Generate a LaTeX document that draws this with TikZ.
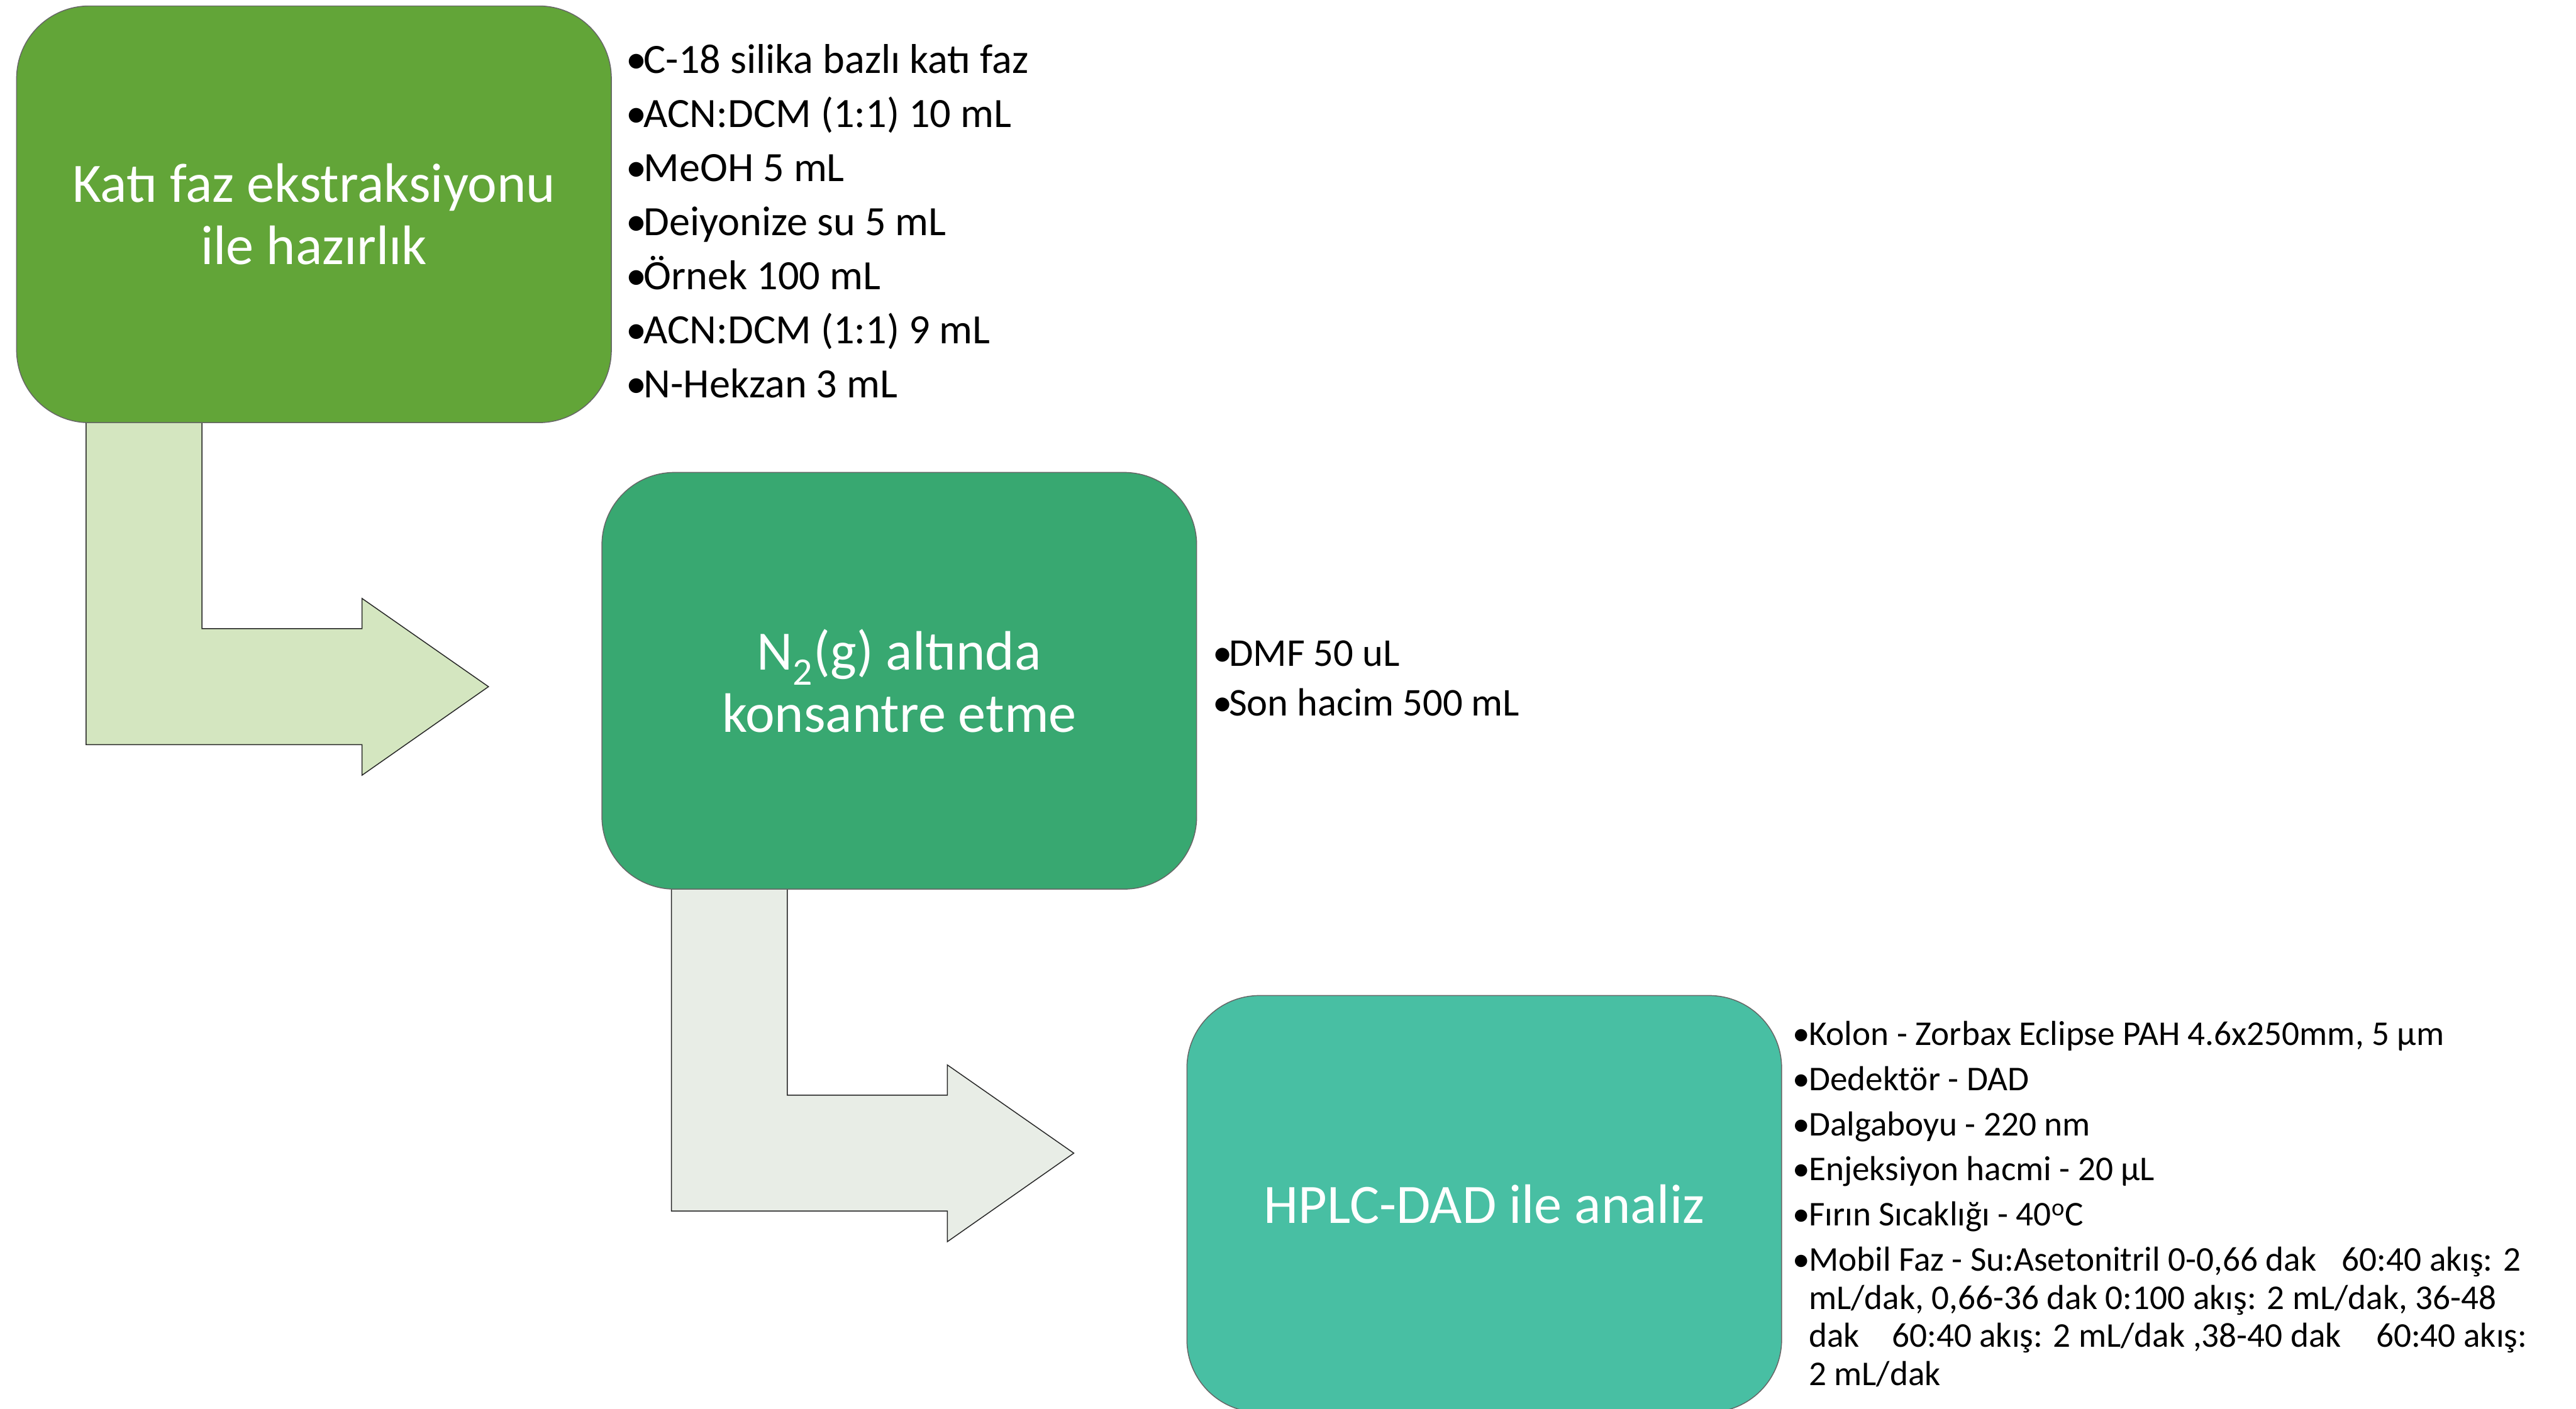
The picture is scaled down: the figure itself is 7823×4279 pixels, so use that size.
\documentclass[tikz,border=0pt]{standalone}
\usepackage{fontspec}
\setmainfont{Carlito}
\pgfdeclarelayer{background}
\pgfsetlayers{background,main}
\definecolor{boxA}{RGB}{98,165,56}
\definecolor{boxB}{RGB}{56,168,113}
\definecolor{boxC}{RGB}{72,191,163}
\definecolor{arrA}{RGB}{212,230,192}
\definecolor{arrB}{RGB}{232,237,230}
\tikzset{
  stepbox/.style={rectangle, rounded corners=2.2cm, draw=black!60, line width=0.8pt,
    minimum width=18.05cm, minimum height=12.65cm, inner sep=0pt, outer sep=0pt,
    text=white, align=center, font=\fontsize{48}{54}\selectfont},
  bent/.style={draw=black!85, line width=0.8pt, line join=miter},
  listnode/.style={anchor=base west, inner sep=0pt, outer sep=0pt, text=black},
}
\newcommand{\bul}[1]{\par\hangindent=#1\hangafter=1\noindent\makebox[#1][l]{•}}
\newcommand{\bentarrow}[2]{%
  \begin{scope}[shift={(#1)}]
    \draw[bent, fill=#2] (211,-30) -- (563,-30) -- (563,626) -- (1049,626) -- (1049,534)
      -- (1433,802) -- (1049,1071) -- (1049,978) -- (211,978) -- cycle;
  \end{scope}}
\begin{document}
\begin{tikzpicture}[x=0.01cm, y=-0.01cm]
\useasboundingbox (0,0) rectangle (7823,4279);

\node[stepbox, fill=boxA] (b1) at (953.5,651) {Katı faz ekstraksiyonu\\ile hazırlık};
\node[stepbox, fill=boxB] (b2) at (2731,2068) {N\textsubscript{2}(g) altında\\konsantre etme};
\node[stepbox, fill=boxC] (b3) at (4507.5,3657) {HPLC-DAD ile analiz};

\begin{pgfonlayer}{background}
  \fill[white] (0,0) rectangle (7823,4279);
  \bentarrow{b1.south west}{arrA}
  \bentarrow{b2.south west}{arrB}
\end{pgfonlayer}

\node[listnode] (l1) at (1902,222) {\parbox[t]{16cm}{\raggedright\fontsize{36}{44}\selectfont\parskip=2.7pt
\bul{0.53cm}C-18 silika bazlı katı faz
\bul{0.53cm}ACN:DCM (1:1) 10 mL
\bul{0.53cm}MeOH 5 mL
\bul{0.53cm}Deiyonize su 5 mL
\bul{0.53cm}Örnek 100 mL
\bul{0.53cm}ACN:DCM (1:1) 9 mL
\bul{0.53cm}N-Hekzan 3 mL}};

\node[listnode] (l2) at (3684,2024) {\parbox[t]{16cm}{\raggedright\fontsize{34}{40}\selectfont\parskip=2.7pt
\bul{0.48cm}DMF 50 uL
\bul{0.48cm}Son hacim 500 mL}};

\node[listnode] (l3) at (5444,3175) {\parbox[t]{24cm}{\raggedright\fontsize{30}{33}\selectfont\parskip=6pt
\bul{0.49cm}Kolon - Zorbax Eclipse PAH 4.6x250mm, 5 µm
\bul{0.49cm}Dedektör - DAD
\bul{0.49cm}Dalgaboyu - 220 nm
\bul{0.49cm}Enjeksiyon hacmi - 20 µL
\bul{0.49cm}Fırın Sıcaklığı - 40\textsuperscript{o}C
\bul{0.49cm}Mobil Faz - Su:Asetonitril 0-0,66 dak\hspace{22pt}60:40 akış: 2\newline
mL/dak, 0,66-36 dak 0:100 akış: 2 mL/dak, 36-48\newline
dak\hspace{28pt}60:40 akış: 2 mL/dak ,38-40 dak\hspace{30pt}60:40 akış:\newline
2 mL/dak}};
\end{tikzpicture}
\end{document}
